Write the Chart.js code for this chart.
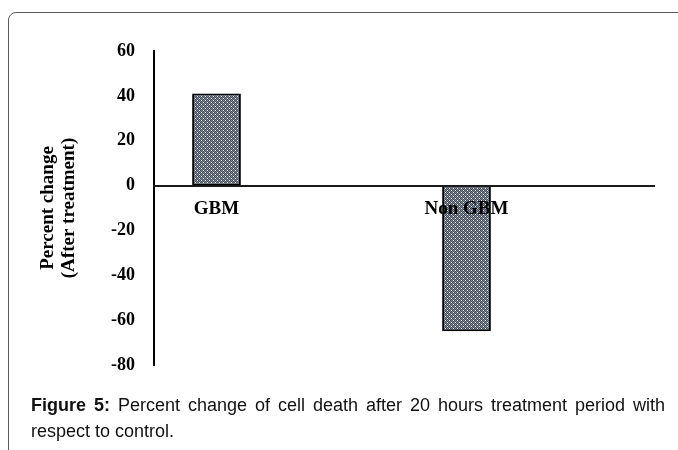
<!DOCTYPE html>
<html lang="en">
<head>
  <meta charset="UTF-8">
  <title>Percent change of cell death</title>
  <script src="https://cdn.jsdelivr.net/npm/chart.js"></script>
  <style>
    html, body {
      margin: 0;
      padding: 0;
      background: #fff;
      overflow: hidden;
    }
    #frame {
      position: absolute;
      left: 8px;
      top: 12px;
      width: 720px;
      height: 500px;
      border: 1px solid #5a5a5a;
      border-radius: 8px;
    }
    #chart {
      position: absolute;
      left: 0;
      top: 0;
    }
    #caption {
      position: absolute;
      left: 31px;
      top: 392px;
      width: 634px;
      font-family: "Liberation Sans", Arial, sans-serif;
      font-size: 18px;
      line-height: 26px;
      color: #111;
    }
    #caption .line1 {
      white-space: nowrap;
      text-align: justify;
      text-align-last: justify;
    }
  </style>
</head>
<body>
  <div id="frame"></div>
  <canvas id="chart" width="678" height="450"></canvas>
  <div id="caption">
    <div class="line1"><b>Figure 5:</b> Percent change of cell death after 20 hours treatment period with</div>
    <div>respect to control.</div>
  </div>

  <script>
    // blank slots keep the gap the original leaves after each bar
    const categories = ['GBM', '', 'Non GBM', ''];
    const percentChange = [41, null, -65, null];
    const yMin = -80;
    const yMax = 60;
    const yStep = 20;
    const yTitle = ['Percent change', '(After treatment)'];

    // dotted grey fill like the original bars
    function dotPattern() {
      const c = document.createElement('canvas');
      c.width = 4;
      c.height = 4;
      const g = c.getContext('2d');
      g.fillStyle = '#808a99';
      g.fillRect(0, 0, 4, 4);
      g.fillStyle = '#434a57';
      for (let y = 0; y < 4; y++) {
        for (let x = 0; x < 4; x++) {
          if ((x + y) % 2 === 0) g.fillRect(x, y, 1, 1);
        }
      }
      g.fillStyle = '#ffffff';
      g.fillRect(1, 0, 1, 1);
      g.fillRect(3, 2, 1, 1);
      return g.createPattern(c, 'repeat');
    }

    const serif = '"Liberation Serif", "Times New Roman", serif';
    const ctx = document.getElementById('chart').getContext('2d');

    new Chart(ctx, {
      type: 'bar',
      data: {
        labels: categories,
        datasets: [{
          data: percentChange,
          backgroundColor: dotPattern(),
          borderColor: '#000',
          borderWidth: 2,
          borderSkipped: false,
          categoryPercentage: 1,
          barPercentage: 0.39
        }]
      },
      options: {
        responsive: false,
        animation: false,
        layout: {
          padding: { left: 38, top: 51, right: 24, bottom: 85 }
        },
        plugins: {
          legend: { display: false },
          tooltip: { enabled: false }
        },
        scales: {
          x: {
            type: 'category',
            position: { y: 0 },
            grid: { display: false, drawTicks: false },
            border: { display: true, color: '#1a1a1a', width: 2, z: 1 },
            ticks: {
              z: 1,
              autoSkip: false,
              maxRotation: 0,
              padding: 12,
              color: '#000',
              font: { family: serif, size: 19, weight: 'bold' }
            },
            afterFit: s => { s.paddingLeft = 0; s.paddingRight = 0; }
          },
          y: {
            min: yMin,
            max: yMax,
            grid: { display: false, drawTicks: false },
            border: { display: true, color: '#000', width: 2 },
            ticks: {
              stepSize: yStep,
              padding: 19,
              color: '#000',
              font: { family: serif, size: 18, weight: 'bold' }
            },
            title: {
              display: true,
              text: yTitle,
              color: '#000',
              padding: 0,
              font: { family: serif, size: 19, weight: 'bold', lineHeight: 1.1 }
            },
            afterFit: s => {
              s.width = 116;
              s.paddingTop = 0;
              s.paddingBottom = 0;
            }
          }
        }
      }
    });
  </script>
</body>
</html>
